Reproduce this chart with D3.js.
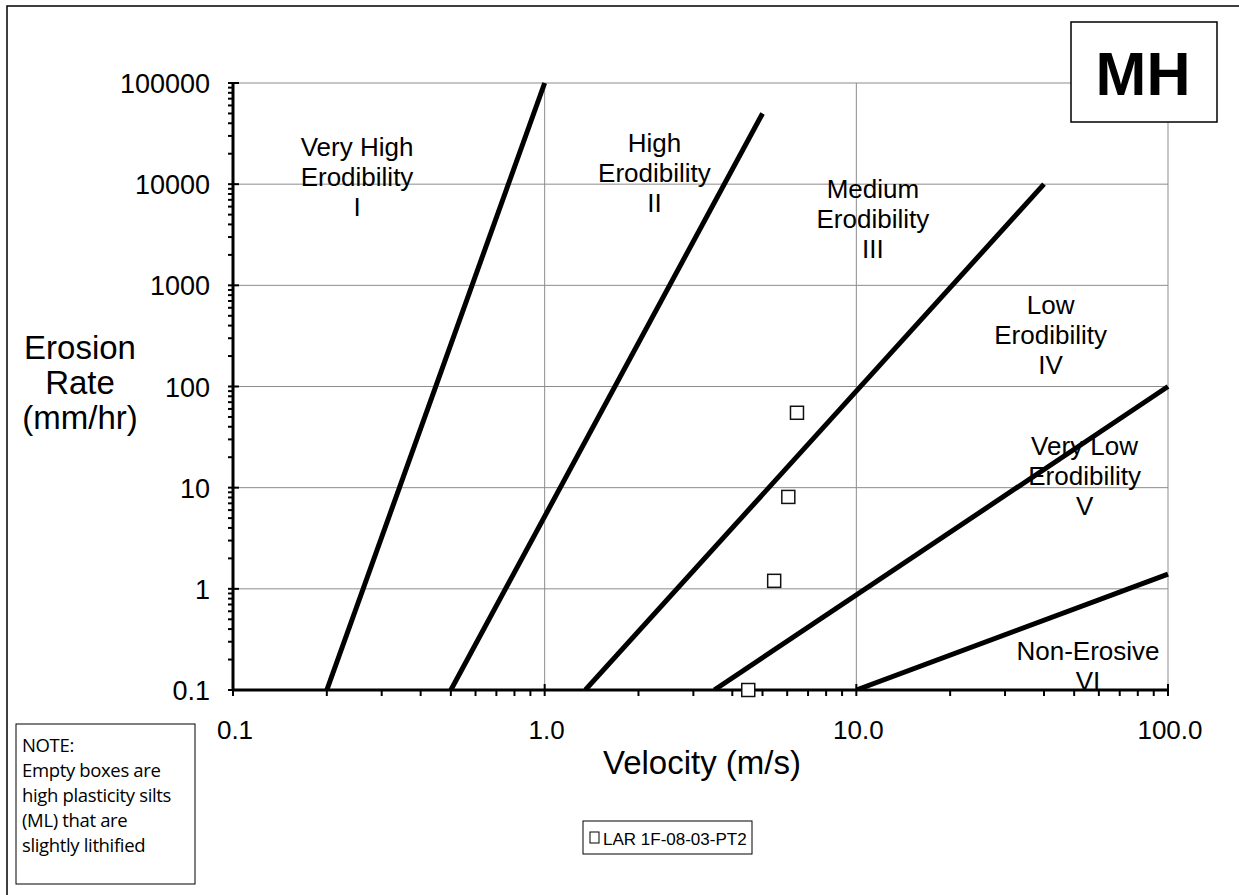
<!DOCTYPE html>
<html>
<head>
<meta charset="utf-8">
<script src="https://cdn.jsdelivr.net/npm/d3@7"></script>
<style>
  body { margin: 0; background: #fff; }
  svg { font-family: "Liberation Sans", Arial, sans-serif; }
  .grid line { stroke: #8c8c8c; stroke-width: 1; }
  .zone { fill: none; stroke: #000; stroke-width: 5; }
  .lbl { font-size: 26px; fill: #000; text-anchor: middle; }
</style>
</head>
<body>
<div id="chart"></div>
<script>
var W = 1239, H = 895;

// erodibility boundary lines, [velocity m/s, erosion mm/hr]
var boundaryLines = [
  [[0.2, 0.1], [1.0, 100000]],
  [[0.5, 0.1], [5.0, 50000]],
  [[1.35, 0.1], [40, 10000]],
  [[3.5, 0.1], [100, 100]],
  [[10, 0.1], [100, 1.4]]
];

// test points LAR 1F-08-03-PT2
var velocity = [6.45, 6.05, 5.45, 4.5];
var erosion = [55, 8.1, 1.2, 0.1];

var xTicks = [0.1, 1, 10, 100];
var xTickLabels = ["0.1", "1.0", "10.0", "100.0"];
var yTicks = [0.1, 1, 10, 100, 1000, 10000, 100000];
var yTickLabels = ["0.1", "1", "10", "100", "1000", "10000", "100000"];

// label anchor: velocity of centre, erosion rate at first baseline
var zoneLabels = [
  { lines: ["Very High", "Erodibility", "I"], v: 0.25, e: 19000 },
  { lines: ["High", "Erodibility", "II"], v: 2.25, e: 21000 },
  { lines: ["Medium", "Erodibility", "III"], v: 11.3, e: 7300 },
  { lines: ["Low", "Erodibility", "IV"], v: 42, e: 520 },
  { lines: ["Very Low", "Erodibility", "V"], v: 54, e: 21 },
  { lines: ["Non-Erosive", "VI"], v: 55.4, e: 0.2 }
];

var noteLines = ["NOTE:", "Empty boxes are", "high plasticity silts", "(ML) that are", "slightly lithified"];

var pLeft = 233, pRight = 1168, pTop = 83, pBottom = 690;

var svg = d3.select("#chart").append("svg").attr("width", W).attr("height", H);

// outer frame
svg.append("rect").attr("x", 7).attr("y", 6).attr("width", W + 20).attr("height", H + 20)
   .attr("fill", "none").attr("stroke", "#000").attr("stroke-width", 1.5);

var x = d3.scaleLog().domain([0.1, 100]).range([pLeft, pRight]);
var y = d3.scaleLog().domain([0.1, 100000]).range([pBottom, pTop]);

// grid
var grid = svg.append("g").attr("class", "grid");
grid.selectAll(".gx").data(xTicks.slice(1)).enter().append("line")
    .attr("x1", function(d) { return x(d); }).attr("x2", function(d) { return x(d); })
    .attr("y1", pTop).attr("y2", pBottom);
grid.selectAll(".gy").data(yTicks.slice(1)).enter().append("line")
    .attr("y1", function(d) { return y(d); }).attr("y2", function(d) { return y(d); })
    .attr("x1", pLeft).attr("x2", pRight);

// minor ticks
var xMinor = [], yMinor = [];
xTicks.slice(0, -1).forEach(function(t) {
  for (var k = 2; k < 10; k++) xMinor.push(t * k);
});
yTicks.slice(0, -1).forEach(function(t) {
  for (var k = 2; k < 10; k++) yMinor.push(t * k);
});

// boundary lines
svg.append("clipPath").attr("id", "plot")
  .append("rect").attr("x", pLeft).attr("y", pTop - 2).attr("width", pRight - pLeft + 2).attr("height", pBottom - pTop + 2);
var line = d3.line().x(function(d) { return x(d[0]); }).y(function(d) { return y(d[1]); });
svg.append("g").attr("clip-path", "url(#plot)")
  .selectAll("path").data(boundaryLines).enter().append("path")
  .attr("class", "zone").attr("d", line);

// x axis
var xAxis = svg.append("g").attr("transform", "translate(0," + pBottom + ")");
xAxis.append("line").attr("x1", pLeft).attr("x2", pRight).attr("stroke", "#000").attr("stroke-width", 3);
xAxis.selectAll(".mn").data(xMinor).enter().append("line")
  .attr("x1", function(d) { return x(d); }).attr("x2", function(d) { return x(d); })
  .attr("y1", 0).attr("y2", 6).attr("stroke", "#000").attr("stroke-width", 2);
xAxis.selectAll(".mj").data(xTicks).enter().append("line")
  .attr("x1", function(d) { return x(d); }).attr("x2", function(d) { return x(d); })
  .attr("y1", -6).attr("y2", 6).attr("stroke", "#000").attr("stroke-width", 2);
xAxis.selectAll("text").data(xTicks).enter().append("text")
  .attr("x", function(d) { return x(d) + 2; }).attr("y", 49)
  .attr("text-anchor", "middle").attr("font-size", 26)
  .text(function(d, i) { return xTickLabels[i]; });

// y axis
var yAxis = svg.append("g").attr("transform", "translate(" + pLeft + ",0)");
yAxis.append("line").attr("y1", pTop).attr("y2", pBottom).attr("stroke", "#000").attr("stroke-width", 3);
yAxis.selectAll(".mn").data(yMinor).enter().append("line")
  .attr("y1", function(d) { return y(d); }).attr("y2", function(d) { return y(d); })
  .attr("x1", -5).attr("x2", 0).attr("stroke", "#000").attr("stroke-width", 2);
yAxis.selectAll(".mj").data(yTicks).enter().append("line")
  .attr("y1", function(d) { return y(d); }).attr("y2", function(d) { return y(d); })
  .attr("x1", -5).attr("x2", 6).attr("stroke", "#000").attr("stroke-width", 2);
yAxis.selectAll("text").data(yTicks).enter().append("text")
  .attr("x", -23).attr("y", function(d) { return y(d) + 10; })
  .attr("text-anchor", "end").attr("font-size", 27)
  .text(function(d, i) { return yTickLabels[i]; });

// points
svg.selectAll(".pt").data(velocity).enter().append("rect")
  .attr("x", function(d) { return x(d) - 6.5; })
  .attr("y", function(d, i) { return y(erosion[i]) - 6.5; })
  .attr("width", 13).attr("height", 13)
  .attr("fill", "#fff").attr("stroke", "#111").attr("stroke-width", 1.5);

// zone labels
zoneLabels.forEach(function(z) {
  var t = svg.append("text").attr("class", "lbl");
  z.lines.forEach(function(s, i) {
    t.append("tspan").attr("x", x(z.v)).attr("y", y(z.e) + i * 30).text(s);
  });
});

// axis titles
svg.append("text").attr("x", 702).attr("y", 774).attr("text-anchor", "middle")
  .attr("font-size", 33).text("Velocity (m/s)");
var yt = svg.append("text").attr("text-anchor", "middle").attr("font-size", 33);
["Erosion", "Rate", "(mm/hr)"].forEach(function(s, i) {
  yt.append("tspan").attr("x", 80).attr("y", 359 + i * 35).text(s);
});

// MH box
svg.append("rect").attr("x", 1071).attr("y", 22).attr("width", 146).attr("height", 100)
  .attr("fill", "#fff").attr("stroke", "#000").attr("stroke-width", 1.5);
svg.append("text").attr("x", 1143).attr("y", 95).attr("text-anchor", "middle")
  .attr("font-size", 61).attr("font-weight", "bold").text("MH");

// note box
svg.append("rect").attr("x", 16).attr("y", 724).attr("width", 179).attr("height", 160)
  .attr("fill", "#fff").attr("stroke", "#000").attr("stroke-width", 1);
var nt = svg.append("text").attr("font-family", "'Open Sans', sans-serif").attr("font-size", 18.5)
  .attr("letter-spacing", -0.35);
noteLines.forEach(function(s, i) {
  nt.append("tspan").attr("x", 22).attr("y", 752 + i * 25).text(s);
});

// legend
var lg = svg.append("g").attr("transform", "translate(583,821)");
lg.append("rect").attr("width", 169).attr("height", 33).attr("fill", "#fff")
  .attr("stroke", "#000").attr("stroke-width", 1);
lg.append("rect").attr("x", 7).attr("y", 11).attr("width", 9).attr("height", 11)
  .attr("fill", "#fff").attr("stroke", "#000").attr("stroke-width", 1);
lg.append("text").attr("x", 20).attr("y", 24).attr("font-size", 17).text("LAR 1F-08-03-PT2");
</script>
</body>
</html>
